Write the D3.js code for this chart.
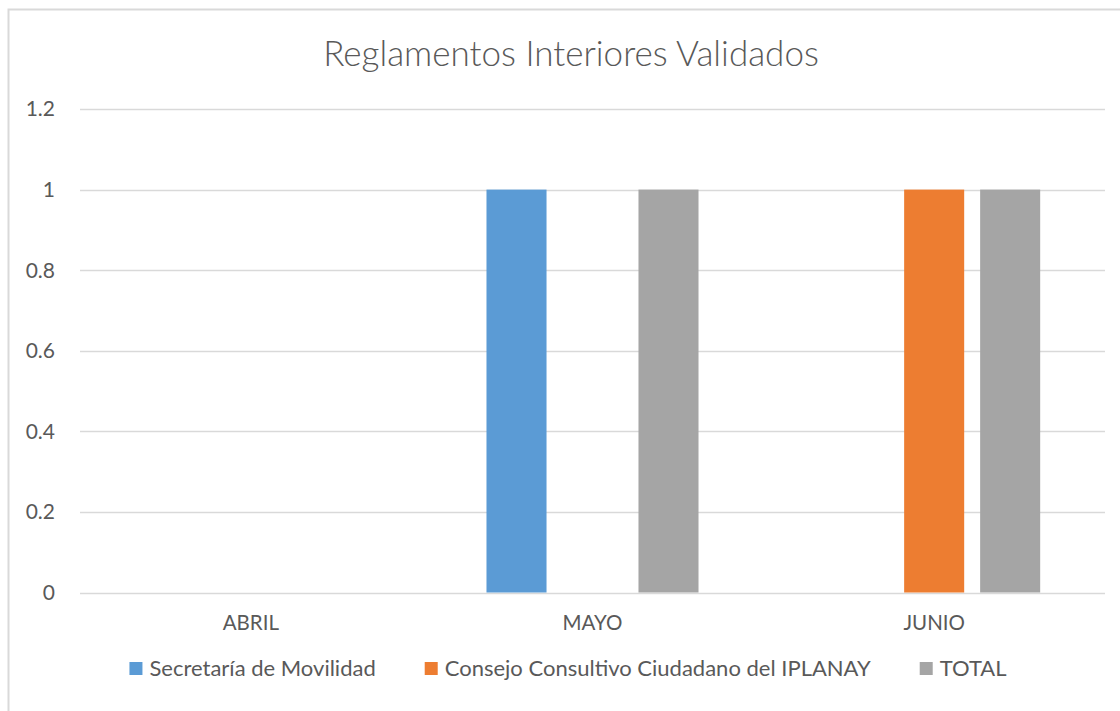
<!DOCTYPE html>
<html>
<head>
<meta charset="utf-8">
<script src="https://cdn.jsdelivr.net/npm/d3@7"></script>
<style>
  html, body { margin: 0; padding: 0; background: #fff; }
  text { font-family: Lato, "Open Sans", sans-serif; fill: #595959; }
</style>
</head>
<body>
<div id="chart"></div>
<script>
// datos
const months = ['ABRIL', 'MAYO', 'JUNIO']
const seriesNames = ['Secretaría de Movilidad', 'Consejo Consultivo Ciudadano del IPLANAY', 'TOTAL']
const secretaria = [0, 1, 0]
const consejo = [0, 0, 1]
const total = [0, 1, 1]
const yTicks = [0, 0.2, 0.4, 0.6, 0.8, 1, 1.2]
const colors = ['#5b9bd5', '#ed7d31', '#a5a5a5']
const title = 'Reglamentos Interiores Validados'

const width = 1120, height = 711
const svg = d3.select('#chart').append('svg')
    .attr('width', width)
    .attr('height', height)

// marco
svg.append('rect')
    .attr('x', 8.5).attr('y', 9.5)
    .attr('width', width + 20).attr('height', height + 20)
    .attr('fill', 'none')
    .attr('stroke', '#d9d9d9')
    .attr('stroke-width', 2)

const plot = {left: 80, right: 1105, top: 109, bottom: 592.5}

const x0 = d3.scaleBand()
    .domain(months)
    .range([plot.left, plot.right])

const x1 = d3.scaleBand()
    .domain(seriesNames)
    .range([0, x0.bandwidth()])
    .paddingInner(0.21)
    .paddingOuter(0.853)

const y = d3.scaleLinear()
    .domain([0, 1.2])
    .range([plot.bottom, plot.top])

// rejilla
svg.append('g').selectAll('line').data(yTicks).join('line')
    .attr('x1', plot.left).attr('x2', plot.right)
    .attr('y1', d => Math.round(y(d)) + 0.5)
    .attr('y2', d => Math.round(y(d)) + 0.5)
    .attr('stroke', '#d9d9d9')
    .attr('stroke-width', 1.3)

svg.append('g').selectAll('text').data(yTicks).join('text')
    .attr('x', 55)
    .attr('y', d => y(d))
    .attr('dy', '0.35em')
    .attr('text-anchor', 'end')
    .style('font-size', '21px')
    .text(d => d)

// barras
const data = months.map((m, i) => ({
    month: m,
    values: [secretaria[i], consejo[i], total[i]].map((v, j) => ({key: seriesNames[j], value: v, color: colors[j]}))
}))

svg.append('g').selectAll('g').data(data).join('g')
    .attr('transform', d => `translate(${x0(d.month)},0)`)
    .selectAll('rect').data(d => d.values.filter(v => v.value > 0)).join('rect')
    .attr('x', d => x1(d.key))
    .attr('y', d => y(d.value))
    .attr('width', x1.bandwidth())
    .attr('height', d => y(0) - y(d.value))
    .attr('fill', d => d.color)

// eje x
svg.append('g').selectAll('text').data(months).join('text')
    .attr('x', d => x0(d) + x0.bandwidth() / 2)
    .attr('y', 630)
    .attr('text-anchor', 'middle')
    .style('font-size', '20.5px')
    .text(d => d)

// titulo
svg.append('text')
    .attr('x', 571)
    .attr('y', 66)
    .attr('text-anchor', 'middle')
    .style('font-size', '35px')
    .style('font-weight', 300)
    .text(title)

// leyenda
const legend = svg.append('g')
const items = legend.selectAll('g').data(seriesNames).join('g')
items.append('rect')
    .attr('width', 13).attr('height', 13)
    .attr('y', 662)
    .attr('fill', (d, i) => colors[i])
items.append('text')
    .attr('x', 20)
    .attr('y', 676)
    .style('font-size', '22px')
    .text(d => d)

let cursor = 0
const offsets = []
items.each(function () {
    const w = d3.select(this).select('text').node().getComputedTextLength()
    offsets.push(cursor)
    cursor += 20 + w + 49
})
const legendWidth = cursor - 49
const start = 568 - legendWidth / 2
items.attr('transform', (d, i) => `translate(${start + offsets[i]},0)`)
</script>
</body>
</html>
